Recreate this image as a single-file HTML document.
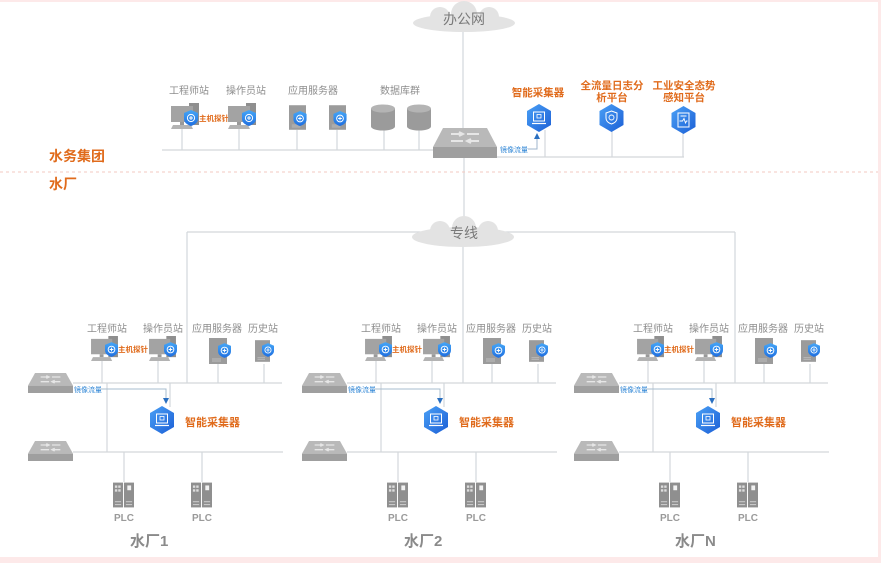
<!DOCTYPE html>
<html><head><meta charset="utf-8"><style>
html,body{margin:0;padding:0;background:#fff;}
svg{display:block;}
text{font-family:"Liberation Sans","Noto Sans CJK SC",sans-serif;}
.g{fill:#8e8e8e;font-size:10px;}
.o{fill:#e06b1c;font-size:10.5px;font-weight:bold;}
.b{fill:#2f86d6;font-size:7px;}
.p{fill:#e06b1c;font-size:7.5px;font-weight:bold;}
.l{stroke:#d3d7db;stroke-width:1.2;fill:none;}
</style></head><body>
<svg width="881" height="563" viewBox="0 0 881 563" xmlns="http://www.w3.org/2000/svg">
<defs>
<linearGradient id="hg" x1="0" y1="0" x2="1" y2="1"><stop offset="0" stop-color="#4aa0f5"/><stop offset="1" stop-color="#1c5fd6"/></linearGradient>
<linearGradient id="sg" x1="0" y1="0" x2="0" y2="1"><stop offset="0" stop-color="#45a6f7"/><stop offset="1" stop-color="#1f6fe0"/></linearGradient>
<symbol id="sw" viewBox="0 0 64 30" preserveAspectRatio="none">
<polygon points="10,0 54,0 64,19 0,19" fill="#b9b9b9"/>
<rect x="0" y="19" width="64" height="11" fill="#9f9f9f"/>
<path d="M18 6 H30 M34 6 H46 M18 13 H30 M34 13 H46 M26 4 L30 6 L26 8 M38 11 L34 13 L38 15" stroke="#e6e6e6" stroke-width="2" fill="none"/>
</symbol>
<symbol id="pc" viewBox="0 0 28 26">
<rect x="18" y="0" width="10" height="22" fill="#8f8f8f"/>
<rect x="0" y="3" width="22" height="16" fill="#a3a3a3"/>
<rect x="9" y="19" width="4" height="3" fill="#999"/>
<polygon points="2,22 20,22 22,26 0,26" fill="#b3b3b3"/>
</symbol>
<symbol id="sh" viewBox="0 0 14 16">
<path d="M7 0 L14 3 L14 9 C14 13 10 15 7 16 C4 15 0 13 0 9 L0 3 Z" fill="url(#sg)"/>
<circle cx="7" cy="8" r="3.6" fill="none" stroke="#fff" stroke-width="1"/>
<path d="M7 6 V10 M5 8 H9" stroke="#fff" stroke-width="1"/>
</symbol>
<symbol id="sv" viewBox="0 0 18 26">
<rect x="0" y="0" width="18" height="26" fill="#9b9b9b"/>
<path d="M3 21 H12 M3 23 H12" stroke="#bdbdbd" stroke-width="1"/>
</symbol>
<symbol id="db" viewBox="0 0 24 26">
<path d="M0 4 V22 A12 4 0 0 0 24 22 V4 Z" fill="#9b9b9b"/>
<ellipse cx="12" cy="4" rx="12" ry="4" fill="#b4b4b4"/>
</symbol>
<symbol id="plc" viewBox="0 0 22 26">
<rect x="0" y="0" width="10.5" height="26" fill="#8f8f8f"/>
<rect x="11.5" y="0" width="10.5" height="26" fill="#8f8f8f"/>
<rect x="2" y="3" width="2.5" height="2.5" fill="#ddd"/><rect x="5.5" y="3" width="2.5" height="2.5" fill="#ddd"/>
<rect x="2" y="7" width="2.5" height="2.5" fill="#ddd"/><rect x="5.5" y="7" width="2.5" height="2.5" fill="#ddd"/>
<rect x="15" y="3" width="4" height="5" fill="#f2f2f2"/>
<path d="M2 20 H8.5 M2 23 H8.5 M13.5 20 H20 M13.5 23 H20" stroke="#c8c8c8" stroke-width="1.2"/>
</symbol>
<symbol id="hx" viewBox="0 0 24 28">
<polygon points="12,0 24,7 24,21 12,28 0,21 0,7" fill="url(#hg)"/>
<rect x="6.5" y="8" width="11" height="9" fill="none" stroke="#fff" stroke-width="1"/>
<rect x="10" y="10.5" width="4" height="3.5" fill="none" stroke="#fff" stroke-width="0.8"/>
<path d="M5 19.5 H19" stroke="#fff" stroke-width="1.2"/>
</symbol>
<symbol id="hx2" viewBox="0 0 24 28">
<polygon points="12,0 24,7 24,21 12,28 0,21 0,7" fill="url(#hg)"/>
<path d="M12 7 L17.5 9 L17.5 14 C17.5 17 15 19 12 20 C9 19 6.5 17 6.5 14 L6.5 9 Z" fill="none" stroke="#fff" stroke-width="1"/>
<circle cx="12" cy="13.5" r="2.5" fill="none" stroke="#fff" stroke-width="0.9"/>
</symbol>
<symbol id="hx3" viewBox="0 0 24 28">
<polygon points="12,0 24,7 24,21 12,28 0,21 0,7" fill="url(#hg)"/>
<rect x="6.5" y="7" width="11" height="14" fill="none" stroke="#fff" stroke-width="1"/>
<path d="M9 10 H15 M8 15 L11 15 L12.5 12.5 L14 17 L15 15 L16 15" stroke="#fff" stroke-width="0.9" fill="none"/>
</symbol>
</defs>

<!-- pink frame -->
<rect x="0" y="0" width="881" height="2" fill="#fde9e9"/>
<rect x="878" y="0" width="3" height="563" fill="#fde9e9"/>
<rect x="0" y="557" width="881" height="6" fill="#fde9e9"/>

<!-- ===== TOP: 办公网 ===== -->
<line class="l" x1="463" y1="30" x2="463" y2="130"/>
<line class="l" x1="464" y1="158" x2="464" y2="222"/>
<g fill="#e3e3e3">
<ellipse cx="464" cy="23" rx="51" ry="9"/>
<circle cx="440" cy="17" r="10"/><circle cx="464" cy="14" r="13"/><circle cx="489" cy="17" r="10"/>
</g>
<text x="464" y="24" text-anchor="middle" fill="#7a7a7a" font-size="14">办公网</text>

<!-- top bus -->
<line class="l" x1="162" y1="150" x2="434" y2="150"/>
<line class="l" x1="497" y1="157" x2="684" y2="157"/>
<g class="l">
<line x1="182" y1="129" x2="182" y2="150"/><line x1="239" y1="129" x2="239" y2="150"/>
<line x1="297" y1="130" x2="297" y2="150"/><line x1="337" y1="130" x2="337" y2="150"/>
<line x1="384" y1="130" x2="384" y2="150"/><line x1="419" y1="130" x2="419" y2="150"/>
<line x1="545" y1="130" x2="545" y2="157"/><line x1="612" y1="131" x2="612" y2="157"/>
<line x1="683" y1="133" x2="683" y2="157"/>
</g>
<use href="#sw" x="433" y="128" width="64" height="30"/>

<text class="g" x="189" y="94" text-anchor="middle">工程师站</text>
<text class="g" x="246" y="94" text-anchor="middle">操作员站</text>
<text class="g" x="313" y="94" text-anchor="middle">应用服务器</text>
<text class="g" x="400" y="94" text-anchor="middle">数据库群</text>

<use href="#pc" x="171" y="103" width="28" height="26"/>
<use href="#sh" x="184" y="110" width="14" height="16"/>
<text class="p" x="199" y="121">主机探针</text>
<use href="#pc" x="228" y="103" width="28" height="26"/>
<use href="#sh" x="242" y="110" width="14" height="16"/>
<use href="#sv" x="289" y="105" width="17" height="25"/>
<use href="#sh" x="293" y="111" width="14" height="15"/>
<use href="#sv" x="329" y="105" width="17" height="25"/>
<use href="#sh" x="333" y="111" width="14" height="15"/>
<use href="#db" x="371" y="104" width="24" height="27"/>
<use href="#db" x="407" y="104" width="24" height="27"/>

<text class="o" x="538" y="96" text-anchor="middle">智能采集器</text>
<use href="#hx" x="527" y="104" width="24" height="28"/>
<text class="b" x="500" y="152">镜像流量</text>
<path d="M528 149 H537 V138" stroke="#9fb6cc" stroke-width="1" fill="none"/>
<polygon points="537,133 534,139 540,139" fill="#2a6fc0"/>

<text class="o" x="612" y="89" text-anchor="middle">全流量日志分</text>
<text class="o" x="612" y="101" text-anchor="middle">析平台</text>
<use href="#hx2" x="599" y="104" width="25" height="28"/>
<text class="o" x="684" y="89" text-anchor="middle">工业安全态势</text>
<text class="o" x="684" y="101" text-anchor="middle">感知平台</text>
<use href="#hx3" x="671" y="106" width="25" height="28"/>

<!-- section labels -->
<text x="49" y="161" fill="#e06b1c" font-size="14" font-weight="bold">水务集团</text>
<line x1="0" y1="172" x2="878" y2="172" stroke="#f3c9c0" stroke-width="1" stroke-dasharray="3,3"/>
<text x="49" y="189" fill="#e06b1c" font-size="14" font-weight="bold">水厂</text>

<!-- ===== 专线 ===== -->
<line class="l" x1="187" y1="232" x2="735" y2="232"/>
<line class="l" x1="187" y1="232" x2="187" y2="383"/>
<line class="l" x1="463" y1="240" x2="463" y2="383"/>
<line class="l" x1="735" y1="232" x2="735" y2="383"/>
<g fill="#e3e3e3">
<ellipse cx="463" cy="237" rx="51" ry="10"/>
<circle cx="440" cy="231" r="10"/><circle cx="464" cy="228" r="12"/><circle cx="488" cy="231" r="10"/>
</g>
<text x="464" y="238" text-anchor="middle" fill="#7a7a7a" font-size="14">专线</text>

<!-- ===== PLANT 1 ===== -->
<g id="plant">
<line class="l" x1="73" y1="383" x2="282" y2="383"/>
<line class="l" x1="73" y1="452" x2="283" y2="452"/>
<line class="l" x1="107" y1="383" x2="107" y2="452"/>
<line class="l" x1="170" y1="383" x2="170" y2="407"/>
<line class="l" x1="102" y1="358" x2="102" y2="383"/>
<line class="l" x1="158" y1="358" x2="158" y2="383"/>
<line class="l" x1="218" y1="364" x2="218" y2="383"/>
<line class="l" x1="264" y1="364" x2="264" y2="383"/>
<line class="l" x1="124" y1="452" x2="124" y2="482"/>
<line class="l" x1="202" y1="452" x2="202" y2="482"/>
<use href="#sw" x="28" y="373" width="45" height="20"/>
<use href="#sw" x="28" y="441" width="45" height="20"/>
<text class="b" x="74" y="392">镜像流量</text>
<path d="M100 389 H166 V399" stroke="#a7bccf" stroke-width="1" fill="none"/>
<polygon points="166,404 163,398 169,398" fill="#2a6fc0"/>
<use href="#hx" x="150" y="406" width="24" height="28"/>
<text x="185" y="426" fill="#e06b1c" font-size="11" font-weight="bold">智能采集器</text>
<text class="g" x="107" y="332" text-anchor="middle">工程师站</text>
<text class="g" x="163" y="332" text-anchor="middle">操作员站</text>
<text class="g" x="217" y="332" text-anchor="middle">应用服务器</text>
<text class="g" x="263" y="332" text-anchor="middle">历史站</text>
<use href="#pc" x="91" y="336" width="27" height="25"/>
<use href="#sh" x="105" y="342" width="13" height="15"/>
<text class="p" x="118" y="352">主机探针</text>
<use href="#pc" x="149" y="336" width="27" height="25"/>
<use href="#sh" x="164" y="342" width="13" height="15"/>
<use href="#sv" x="209" y="338" width="18" height="26"/>
<use href="#sh" x="218" y="343" width="13" height="15"/>
<use href="#sv" x="255" y="338" width="15" height="26"/>
<use href="#sh" x="262" y="343" width="12" height="14"/>
<use href="#plc" x="113" y="482" width="21" height="26"/>
<use href="#plc" x="191" y="482" width="21" height="26"/>
<text x="124" y="521" text-anchor="middle" fill="#9a9a9a" font-size="10" font-weight="bold">PLC</text>
<text x="202" y="521" text-anchor="middle" fill="#9a9a9a" font-size="10" font-weight="bold">PLC</text>
</g>
<text x="130" y="546" fill="#8a8a8a" font-size="15" font-weight="bold">水厂1</text>

<!-- ===== PLANT 2 ===== -->
<use href="#plant" x="274" y="0"/>
<text x="404" y="546" fill="#8a8a8a" font-size="15" font-weight="bold">水厂2</text>

<!-- ===== PLANT N ===== -->
<use href="#plant" x="546" y="0"/>
<text x="675" y="546" fill="#8a8a8a" font-size="15" font-weight="bold">水厂N</text>
</svg>
</body></html>
